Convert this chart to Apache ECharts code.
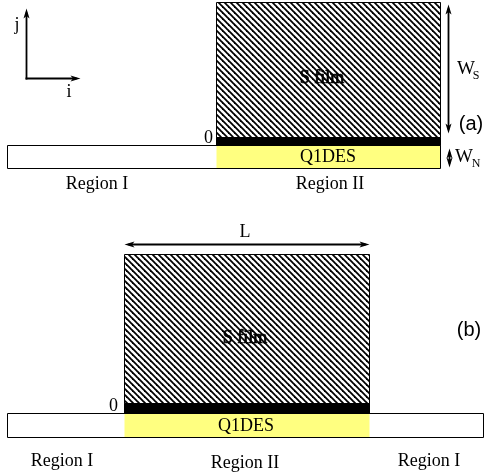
<!DOCTYPE html>
<html><head><meta charset="utf-8">
<script src="https://cdn.jsdelivr.net/npm/echarts@6/dist/echarts.min.js"></script>
<style>html,body{margin:0;padding:0;background:#fff}#c{width:484px;height:476px}</style>
</head><body><div id="c"></div>
<script>
// Diagram geometry in page units (x right, y down)
const filmRects  = [[216,2,440,137],[124,254,369,403]];      // S film (hatched)
const barRects   = [[216,137,440,145],[124,403,369,413]];    // black interface layer
const stripRects = [[7,145,440,168],[7,413,483,437]];        // normal strip
const q1desRects = [[216,145,440,168],[124,413,369,437]];    // Q1DES region
// [x1,y1,x2,y2, heads(1 = end only, 2 = both)]
const arrows = [[448,4,448,133,2],[449,148,449,167,2],[124,244,369,244,2],[26,79,26,8,1],[25,78,80,78,1]];
// [x, y, text, align]
const serifLabels = [
  [17,25,'j','center'],[69,92,'i','center'],
  [213,138,'0','right'],[328,157,'Q1DES','center'],
  [97,184,'Region I','center'],[330,184,'Region II','center'],
  [245,232,'L','center'],[118,406,'0','right'],
  [246,426,'Q1DES','center'],
  [62,461,'Region I','center'],[245,463,'Region II','center'],[429,461,'Region I','center']
];
const filmLabels  = [[322,78,'S film'],[245,338,'S film']];
const mainSymbols = [[466,69,'W'],[464,157,'W']];
const subSymbols  = [[476,76,'S'],[476,164,'N']];
const panelTags   = [[471,124,'(a)'],[469,330,'(b)']];

const hatch = document.createElement('canvas');
const s = 6; hatch.width = s; hatch.height = s;
const hc = hatch.getContext('2d');
hc.fillStyle = '#fff'; hc.fillRect(0,0,s,s);
hc.strokeStyle = '#000'; hc.lineWidth = 1.8;
for (let k=-1;k<=1;k++){ hc.beginPath(); hc.moveTo(k*s-1,-1); hc.lineTo(k*s+s+1,s+1); hc.stroke(); }

function rectSeries(data, style, z){
  return {type:'custom', data:data, z:z, silent:true,
    renderItem:function(p, api){
      const a = api.coord([api.value(0), api.value(1)]);
      const b = api.coord([api.value(2), api.value(3)]);
      return {type:'rect', shape:{x:a[0]+0.5,y:a[1]+0.5,width:b[0]-a[0],height:b[1]-a[1]}, style:style};
    }};
}
function textSeries(data, font, fixedAlign, z, extra){
  return {type:'custom', data:data, z:z, silent:true,
    renderItem:function(p, api){
      const d = data[p.dataIndex];
      const c = api.coord([d[0], d[1]]);
      return {type:'text', x:c[0], y:c[1], style:Object.assign({text:d[2], font:font, fill:'#000',
        align: fixedAlign || d[3], verticalAlign:'middle'}, extra||{})};
    }};
}
const option = {
  animation:false,
  grid:{left:0,right:0,top:0,bottom:0},
  xAxis:{type:'value',min:0,max:484,show:false},
  yAxis:{type:'value',min:0,max:476,inverse:true,show:false},
  series:[
    rectSeries(q1desRects, {fill:'#ffff80', stroke:null}, 1),
    rectSeries(stripRects, {fill:'none', stroke:'#000', lineWidth:1}, 2),
    rectSeries(filmRects, {fill:{image:hatch, repeat:'repeat'}, stroke:'#000', lineWidth:1}, 2),
    rectSeries(barRects, {fill:'#000', stroke:'#000', lineWidth:1}, 3),
    {type:'custom', data:arrows, z:4, silent:true,
      renderItem:function(p, api){
        const a = api.coord([api.value(0), api.value(1)]);
        const b = api.coord([api.value(2), api.value(3)]);
        const heads = api.value(4);
        const dx=b[0]-a[0], dy=b[1]-a[1], L=Math.hypot(dx,dy), ux=dx/L, uy=dy/L;
        const hl=10, hw=3;
        const ch=[{type:'line', shape:{x1:a[0]+0.5+ (heads===2?ux*4:0), y1:a[1]+0.5+(heads===2?uy*4:0), x2:b[0]+0.5-ux*4, y2:b[1]+0.5-uy*4}, style:{stroke:'#000', lineWidth:1.8}}];
        function head(t, vx, vy){
          const x=t[0]+0.5, y=t[1]+0.5;
          ch.push({type:'polygon', shape:{points:[[x,y],[x-vx*hl-vy*hw,y-vy*hl+vx*hw],[x-vx*hl*0.75,y-vy*hl*0.75],[x-vx*hl+vy*hw,y-vy*hl-vx*hw]]}, style:{fill:'#000'}});
        }
        head(b, ux, uy);
        if (heads===2) head(a, -ux, -uy);
        return {type:'group', children:ch};
      }},
    textSeries(serifLabels, '18px "Liberation Serif"', null, 5),
    textSeries(filmLabels, '18px "Liberation Serif"', 'center', 5, {stroke:'#000', lineWidth:0.7}),
    textSeries(mainSymbols, '19px "Liberation Serif"', 'center', 5),
    textSeries(subSymbols, '12px "Liberation Serif"', 'center', 5),
    textSeries(panelTags, '20px "Liberation Sans"', 'center', 5)
  ]
};
const chart = echarts.init(document.getElementById('c'), null, {renderer:'canvas'});
chart.setOption(option);
</script></body></html>
